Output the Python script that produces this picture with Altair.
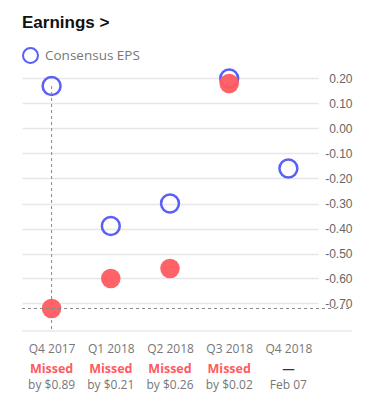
import altair as alt
import pandas as pd

quarters = ["Q4 2017", "Q1 2018", "Q2 2018", "Q3 2018", "Q4 2018"]
consensus = [0.17, -0.39, -0.30, 0.20, -0.16]
actual = [-0.72, -0.60, -0.56, 0.18, None]
status = ["Missed", "Missed", "Missed", "Missed", "—"]
detail = ["by $0.89", "by $0.21", "by $0.26", "by $0.02", "Feb 07"]
y_ticks = [0.2, 0.1, 0.0, -0.1, -0.2, -0.3, -0.4, -0.5, -0.6, -0.7]
highlight = "Q4 2017"

BLUE = "#5a5ff6"
RED = "#ff5a5f"
W, H = 296, 265

df = pd.DataFrame({
    "quarter": quarters,
    "consensus": consensus,
    "actual": actual,
    "status": status,
    "detail": detail,
    "series": ["Consensus EPS"] * len(quarters),
})
hl = df[df["quarter"] == highlight]

xs = alt.Scale(type="point", padding=0.5, domain=quarters)
ys = alt.Scale(domain=[-0.81, 0.25], nice=False, zero=False)

base = alt.Chart(df)

bottom_line = alt.Chart(df.head(1)).mark_rule(color="#dedede", strokeWidth=1).encode(
    x=alt.value(0), x2=alt.value(330), y=alt.value(H)
)

cons = base.mark_point(filled=False, size=320, strokeWidth=2.5, opacity=1).encode(
    x=alt.X("quarter:O", scale=xs, sort=quarters,
            axis=alt.Axis(title=None, domain=False, ticks=False, tickSize=0, grid=False,
                          labelAngle=0, labelPadding=17, labelBaseline="middle",
                          labelFont="Open Sans", labelFontSize=12, labelColor="#777")),
    y=alt.Y("consensus:Q", scale=ys,
            axis=alt.Axis(title=None, orient="right", values=y_ticks, tickCount=20,
                          domain=False, ticks=False,
                          tickSize=0, grid=True, gridColor="#e6e6ec", gridWidth=1.5,
                          labelAlign="right", labelPadding=34, labelBaseline="middle",
                          labelOverlap=False,
                          labelFont="Liberation Sans", labelFontSize=12, labelColor="#666",
                          labelExpr="replace(format(datum.value, '.2f'), '\u2212', '-')")),
    color=alt.Color("series:N", scale=alt.Scale(domain=["Consensus EPS"], range=[BLUE]),
                    legend=alt.Legend(title=None, orient="none", legendX=0, legendY=-19,
                                      padding=0, symbolType="circle", symbolSize=225,
                                      symbolStrokeWidth=2, symbolStrokeColor=BLUE,
                                      labelFont="Open Sans", labelFontSize=13.5,
                                      labelColor="#777", labelOffset=6)),
)

act = base.mark_circle(size=380, color=RED, opacity=0.95).encode(
    x=alt.X("quarter:O", scale=xs, sort=quarters),
    y=alt.Y("actual:Q", scale=ys),
)

vline = alt.Chart(hl).mark_rule(color="#888", strokeDash=[3, 3], strokeWidth=1).encode(
    x=alt.X("quarter:O", scale=xs, sort=quarters),
    y=alt.Y("consensus:Q", scale=ys),
    y2=alt.value(H),
)
hline = alt.Chart(hl).mark_rule(color="#888", strokeDash=[3, 3], strokeWidth=1).encode(
    y=alt.Y("actual:Q", scale=ys),
    x=alt.value(0), x2=alt.value(328),
)

status_txt = base.mark_text(font="Open Sans", fontSize=12.5, fontWeight="bold",
                            baseline="middle").encode(
    x=alt.X("quarter:O", scale=xs, sort=quarters),
    y=alt.value(H + 38),
    text="status:N",
    color=alt.condition(alt.datum.status == "Missed", alt.value(RED), alt.value("#333")),
)
detail_txt = base.mark_text(font="Open Sans", fontSize=12, baseline="middle",
                            color="#777").encode(
    x=alt.X("quarter:O", scale=xs, sort=quarters),
    y=alt.value(H + 54),
    text="detail:N",
)

title_txt = alt.Chart(pd.DataFrame({"t": ["Earnings >"]})).mark_text(
    font="Liberation Sans", fontSize=17, fontWeight="bold", align="left",
    baseline="middle", color="#111"
).encode(x=alt.value(0), y=alt.value(-43), text="t:N")

chart = alt.layer(
    bottom_line, cons, act, vline, hline, status_txt, detail_txt, title_txt
).properties(
    width=W, height=H,
    autosize=alt.AutoSizeParams(type="none"),
    padding={"left": 14, "top": 58, "right": 49, "bottom": 65},
).configure_view(stroke=None)

chart.save("out.html", embed_options={"renderer": "svg", "actions": False})
